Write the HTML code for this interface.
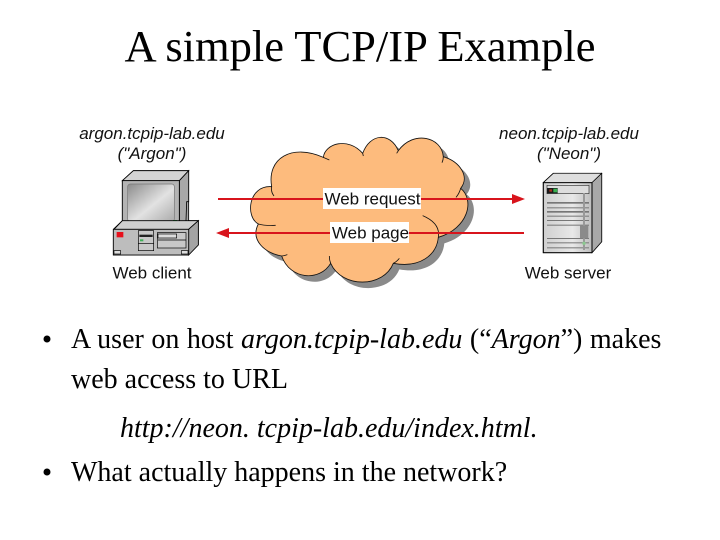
<!DOCTYPE html>
<html><head><meta charset="utf-8"><style>
html,body{margin:0;padding:0;background:#fff}
svg{display:block}
.s{font-family:"Liberation Sans",sans-serif;font-size:17px;fill:#111}
.t{font-family:"Liberation Serif",serif;font-size:28px;fill:#000}
</style></head><body>
<svg width="720" height="540" viewBox="0 0 720 540" xmlns="http://www.w3.org/2000/svg">
<text x="360" y="61" text-anchor="middle" font-family="Liberation Serif, serif" font-size="44.5" fill="#000">A simple TCP/IP Example</text>

<text x="152" y="139" text-anchor="middle" class="s" font-style="italic">argon.tcpip-lab.edu</text>
<text x="152" y="159" text-anchor="middle" class="s" font-style="italic">("Argon")</text>
<text x="569" y="139" text-anchor="middle" class="s" font-style="italic">neon.tcpip-lab.edu</text>
<text x="569" y="159" text-anchor="middle" class="s" font-style="italic">("Neon")</text>

<!-- cloud -->
<g transform="translate(210,120) scale(.33333)">
<path transform="translate(18,18)" fill="#8a8a8a" d="M185,200 C170,115 245,70 340,112 C345,70 415,50 458,100 C480,40 540,35 565,92 C610,30 695,50 700,110 C750,125 780,170 752,205 C795,240 775,325 685,352 C680,405 630,445 550,430 C520,505 395,505 362,430 C330,485 240,480 215,408 C165,400 120,360 145,312 C105,290 115,195 185,200 Z"/>
<path fill="#fdbb7d" stroke="#111" stroke-width="2.5" d="M185,200 C170,115 245,70 340,112 C345,70 415,50 458,100 C480,40 540,35 565,92 C610,30 695,50 700,110 C750,125 780,170 752,205 C795,240 775,325 685,352 C680,405 630,445 550,430 C520,505 395,505 362,430 C330,485 240,480 215,408 C165,400 120,360 145,312 C105,290 115,195 185,200 Z"/>
<path fill="none" stroke="#111" stroke-width="2.5" d="M185,200 Q182,215 192,228 M145,312 Q165,318 197,316 M215,408 Q222,408 232,404 M362,430 Q358,420 358,408 M550,430 Q560,425 568,415 M685,352 Q692,310 638,287 M752,205 Q748,220 738,232 M700,110 Q700,120 696,128 M565,92 L560,100 M458,100 L460,108 M340,112 L358,120"/>
</g>

<!-- arrows -->
<line x1="218" y1="199" x2="516" y2="199" stroke="#d8141c" stroke-width="2"/>
<polygon points="512,194 525,199 512,204" fill="#d8141c"/>
<line x1="228" y1="233" x2="524" y2="233" stroke="#d8141c" stroke-width="2"/>
<polygon points="229,228 216,233 229,238" fill="#d8141c"/>
<rect x="323" y="188" width="98" height="21" fill="#fff"/>
<rect x="330" y="222" width="79" height="21" fill="#fff"/>
<text x="372.5" y="204.500" text-anchor="middle" class="s">Web request</text>
<text x="370.500" y="238.500" text-anchor="middle" class="s">Web page</text>

<!-- computer -->
<defs>
<linearGradient id="scr" x1="0" y1="0" x2="1" y2="1"><stop offset="0" stop-color="#8c8c8c"/><stop offset=".55" stop-color="#e2e2e2"/><stop offset="1" stop-color="#aaa"/></linearGradient>
<linearGradient id="srv" x1="0" y1="0" x2="1" y2="0"><stop offset="0" stop-color="#cfcfcf"/><stop offset=".6" stop-color="#e8e8e8"/><stop offset="1" stop-color="#bdbdbd"/></linearGradient>
</defs>
<g transform="translate(90,160) scale(.33333)" stroke="#000" stroke-width="2.500">
<polygon points="97,62 130,32 296,32 296,182 325,182 325,255 295,285 70,285 70,208 97,182" fill="#a8a8a8"/>
<polygon points="97,62 130,32 296,32 268,62" fill="#d4d4d4"/>
<polygon points="268,62 296,32 296,125 290,125 288,182 268,200" fill="#a8a8a8"/>
<rect x="97" y="62" width="171" height="138" fill="#b4b4b4"/>
<rect x="113" y="72" width="140" height="113" rx="8" fill="url(#scr)" stroke="#777" stroke-width="2"/>
<rect x="249" y="180" width="12" height="6" fill="#3cb054" stroke="none"/>
<polygon points="97,182 72,208 296,208 325,182" fill="#cfcfcf"/>
<polygon points="296,208 325,182 325,255 296,285" fill="#a4a4a4"/>
<rect x="70" y="208" width="226" height="77" fill="#bdbdbd"/>
<rect x="80" y="216" width="20" height="16" fill="#e8101c" stroke="none"/>
<rect x="145" y="212" width="46" height="60" fill="#c8c8c8" stroke-width="2"/>
<rect x="148" y="224" width="40" height="7" fill="#222" stroke="none"/>
<rect x="150" y="238" width="10" height="6" fill="#3cb054" stroke="none"/>
<line x1="145" y1="250" x2="191" y2="250" stroke-width="2"/>
<rect x="202" y="218" width="86" height="46" fill="#c8c8c8" stroke-width="2"/>
<rect x="204" y="222" width="56" height="12" fill="#ddd" stroke-width="2"/>
<line x1="204" y1="240" x2="288" y2="240" stroke-width="2"/>
<rect x="72" y="272" width="20" height="10" fill="#ddd" stroke-width="2"/>
<rect x="274" y="272" width="20" height="10" fill="#ddd" stroke-width="2"/>
</g>
<text x="152" y="278.500" text-anchor="middle" class="s">Web client</text>

<!-- server -->
<g transform="translate(500,160) scale(.33333)">
<polygon points="130,68 160,40 305,40 305,245 276,278 130,278" fill="#aaa" stroke="#000" stroke-width="3"/>
<polygon points="130,68 160,40 305,40 276,68" fill="#dedede" stroke="#000" stroke-width="2"/>
<polygon points="276,68 305,40 305,245 276,278" fill="#a8a8a8" stroke="#000" stroke-width="2"/>
<rect x="130" y="68" width="146" height="210" fill="url(#srv)" stroke="#000" stroke-width="3"/>
<rect x="141" y="76" width="126" height="25" fill="#ddd" stroke="#333" stroke-width="2"/>
<rect x="141" y="84" width="32" height="16" fill="#1a1a1a"/>
<rect x="148" y="88" width="8" height="7" fill="#a83020"/>
<rect x="160" y="86" width="12" height="11" fill="#38b050"/>
<g fill="#777">
<rect x="141" y="126" width="126" height="5"/>
<rect x="141" y="142" width="126" height="3"/>
<rect x="141" y="153" width="126" height="5"/>
<rect x="141" y="167" width="126" height="3"/>
<rect x="141" y="180" width="126" height="3"/>
<rect x="141" y="194" width="126" height="3"/>
<rect x="141" y="234" width="126" height="3"/>
<rect x="141" y="247" width="126" height="3"/>
<rect x="141" y="262" width="126" height="3"/>
</g>
<rect x="249" y="100" width="6" height="170" fill="#999"/>
<rect x="240" y="197" width="25" height="38" fill="#8a8a8a"/>
<circle cx="252" cy="250" r="5" fill="#8cc890"/>
</g>
<text x="568" y="278.500" text-anchor="middle" class="s">Web server</text>

<!-- body text -->
<circle cx="47" cy="339" r="3.500" fill="#000"/>
<text x="71" y="348" class="t" word-spacing=".5">A user on host <tspan font-style="italic">argon.tcpip-lab.edu</tspan> (“<tspan font-style="italic">Argon</tspan>”) makes</text>
<text x="71" y="388" class="t">web access to URL</text>
<text x="120" y="437" class="t" font-style="italic">http://neon. tcpip-lab.edu/index.html.</text>
<circle cx="47" cy="472" r="3.500" fill="#000"/>
<text x="71" y="481" class="t">What actually happens in the network?</text>
</svg>
</body></html>
